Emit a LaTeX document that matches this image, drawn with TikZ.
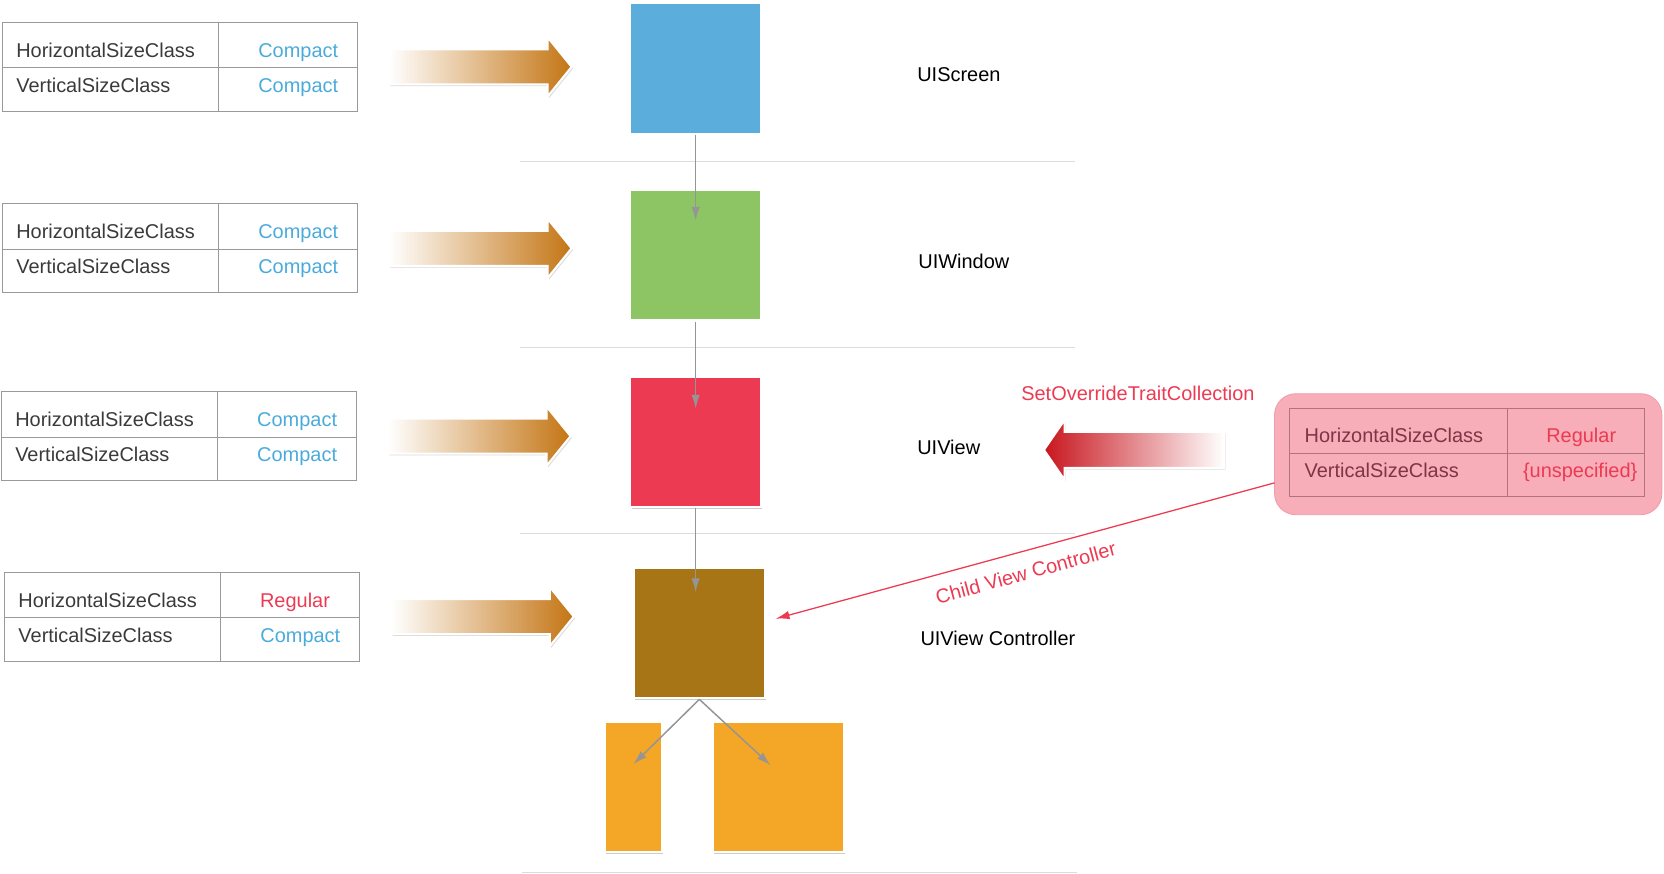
\documentclass[tikz,border=0pt]{standalone}
\usepackage{fontspec}
\setmainfont{Liberation Sans}
\usetikzlibrary{arrows.meta}
\usetikzlibrary{shapes.arrows}
\usetikzlibrary{shadows}
\definecolor{screenblue}{HTML}{5BAEDB}
\definecolor{windowgreen}{HTML}{8DC565}
\definecolor{viewred}{HTML}{EC3A52}
\definecolor{ctrlbrown}{HTML}{A77416}
\definecolor{childorange}{HTML}{F4A626}
\definecolor{compactblue}{HTML}{4AABDB}
\definecolor{regularred}{HTML}{EC3A52}
\definecolor{feedorange}{HTML}{C47514}
\definecolor{overridered}{HTML}{C8161E}
\definecolor{pinkfill}{HTML}{F7AEB8}
\definecolor{pinkline}{HTML}{F29CAA}
\definecolor{pinkgrid}{HTML}{B27280}
\definecolor{pinktext}{HTML}{7E3545}
\definecolor{gridgray}{HTML}{9A9A9A}
\definecolor{sepgray}{HTML}{DCDCDC}
\definecolor{textgray}{HTML}{3A3A3A}
\definecolor{conngray}{HTML}{959595}

\begin{document}
\begin{tikzpicture}[x=0.5pt,y=-0.5pt,
  every node/.style={font=\fontsize{9.4pt}{11pt}\selectfont},
  classname/.style={text=textgray,anchor=base west,inner sep=0pt},
  sizeval/.style={anchor=base,inner sep=0pt},
  boxtitle/.style={text=black,anchor=west,inner sep=0pt},
  viewbox/.style={draw=white,line width=1pt,minimum size=61.5pt,inner sep=0pt,
    drop shadow={shadow xshift=0.6pt,shadow yshift=-0.7pt,opacity=0.4}},
  feed/.style={single arrow,inner xsep=0pt,inner ysep=7.75pt,minimum height=86pt,minimum width=27pt,
    single arrow head extend=5.75pt,single arrow tip angle=102,
    draw=white,line width=1pt,left color=white,right color=feedorange,
    drop shadow={shadow xshift=0.6pt,shadow yshift=-0.8pt,opacity=0.3}},
  conn/.style={draw=conngray,line width=0.7pt,-{Latex[length=6.5pt,width=4pt]}},
  redline/.style={draw=viewred,line width=0.6pt,{Latex[length=6.5pt,width=4pt]}-}]
  \useasboundingbox (0,0) rectangle (1568,823);

  % separators
  \draw[sepgray] (490,152) -- (1013,152);
  \draw[sepgray] (490,327) -- (1013,327);
  \draw[sepgray] (490,503) -- (1013,503);
  \draw[sepgray] (492,822) -- (1015,822);

  % size class tables and feed arrows
  \foreach \n/\x/\y/\hval/\hx/\hcol in {1/2/21/Compact/279/compactblue,2/2/192/Compact/279/compactblue,
      3/1/369/Compact/279/compactblue,4/4/539/Regular/274/regularred}{
    \draw[gridgray] (\x,\y) rectangle ++(335,84);
    \draw[gridgray] (\x+204,\y) -- ++(0,84);
    \draw[gridgray] (\x,\y+43) -- ++(335,0);
    \node[classname] (hname\n) at (\x+13,\y+33) {HorizontalSizeClass};
    \node[sizeval,text=\hcol] (hval\n) at (\x+\hx,\y+33) {\hval};
    \node[classname] (vname\n) at (\x+13,\y+66) {VerticalSizeClass};
    \node[sizeval,text=compactblue] (vval\n) at (\x+279,\y+66) {Compact};
    \node[feed] (feed\n) at (\x+444,\y+42) {};
  }

  % hierarchy
  \node[viewbox,fill=screenblue] (screen) at (655.5,64.5) {};
  \node[viewbox,fill=windowgreen] (window) at (655.5,240.5) {};
  \node[viewbox,fill=viewred] (view) at (655.5,416.5) {};
  \node[viewbox,fill=ctrlbrown] (ctrl) at (659,596.5) {};
  \node[viewbox,fill=childorange,minimum width=27pt] (childa) at (597,741.5) {};
  \node[viewbox,fill=childorange] (childb) at (733.5,741.5) {};

  \coordinate (window-in) at (655.5,208);
  \coordinate (view-in) at (655.5,385);
  \coordinate (ctrl-in) at (655.5,558);
  \coordinate (childa-in) at (597,720);
  \coordinate (childb-in) at (726,721);
  \draw[conn] (screen.south) -- (window-in);
  \draw[conn] (window.south) -- (view-in);
  \draw[conn] (view.south) -- (ctrl-in);
  \draw[conn] (ctrl.south) -- (childa-in);
  \draw[conn] (ctrl.south) -- (childb-in);

  \node[boxtitle] (screen-t) at (864,70) {UIScreen};
  \node[boxtitle] (window-t) at (865,246) {UIWindow};
  \node[boxtitle] (view-t) at (864,422) {UIView};
  \node[boxtitle] (ctrl-t) at (867,602) {UIView Controller};

  % override
  \node[text=viewred,anchor=west,inner sep=0pt] (override-t) at (962,371) {SetOverrideTraitCollection};
  \node[feed,shape border rotate=180,minimum height=85pt,minimum width=27.5pt,inner ysep=8pt,
    single arrow tip angle=111,left color=overridered,right color=white] (push) at (1074.5,424) {};
  \node[draw=pinkline,fill=pinkfill,rounded corners=10pt,minimum width=182.5pt,
    minimum height=57pt,inner sep=0pt] (override) at (1383.5,428) {};
  \draw[pinkgrid] (1215,385) rectangle (1550,468);
  \draw[pinkgrid] (1420,385) -- (1420,468);
  \draw[pinkgrid] (1215,427) -- (1550,427);
  \node[classname,text=pinktext] (ohname) at (1229,417) {HorizontalSizeClass};
  \node[sizeval,text=regularred] (ohval) at (1490,417) {Regular};
  \node[classname,text=pinktext] (ovname) at (1229,450) {VerticalSizeClass};
  \node[sizeval,text=regularred] (ovval) at (1489,450) {\{unspecified\}};

  \coordinate (ctrl-hook) at (731,583);
  \coordinate (override-out) at (1201,455);
  \draw[redline] (ctrl-hook) -- (override-out)
    node[pos=0.49,sloped,below=3pt,text=viewred] (child-t) {Child View Controller};
\end{tikzpicture}
\end{document}
